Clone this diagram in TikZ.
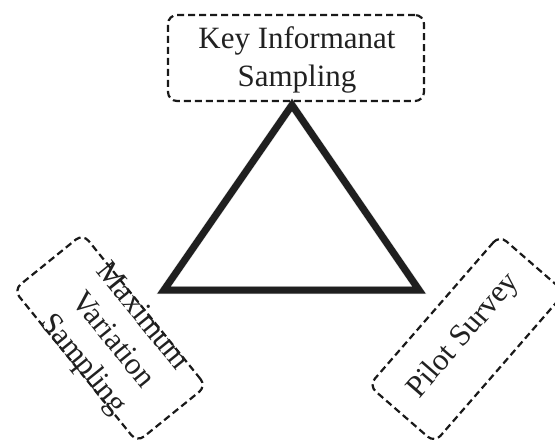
\documentclass[tikz,border=0pt]{standalone}
\usepackage{fontspec}
\setmainfont{Liberation Serif}
\begin{document}
\begin{tikzpicture}[x=1pt,y=-1pt,
  dashbox/.style={draw=black!90, line width=2.2pt, dash pattern=on 7pt off 4pt,
    rounded corners=9pt, inner sep=0pt},
  boxtext/.style={align=center, inner sep=0pt, text=black!87,
    font=\fontsize{31}{38}\selectfont},
  edge/.style={line width=7pt, draw=black!88, line join=miter},
  edgeshadow/.style={line width=8pt, draw=black, opacity=0.12, line join=miter}
]
\useasboundingbox (0,0) rectangle (555,447);

% corner boxes
\node[dashbox, minimum width=256pt, minimum height=86pt] (kis) at (296,58) {};
\node[boxtext] (kisText) at (297,60) {Key Informanat\\Sampling};

\node[dashbox, rotate=-51, minimum width=196pt, minimum height=89pt] (mvs) at (110,338) {};
\node[boxtext, rotate=-51] (mvsText) at (112,341) {Maximum\\Variation\\Sampling};

\node[dashbox, rotate=49, minimum width=199pt, minimum height=87pt] (ps) at (467,339) {};
\node[boxtext, rotate=49] (psText) at (464,336) {Pilot Survey};

% triangle corners
\coordinate (apex) at (292,105);
\coordinate (left) at (164,290);
\coordinate (right) at (419,290);

% soft shadow under the triangle
\begin{scope}[xshift=2pt, yshift=-2pt]
  \draw[edgeshadow] (apex) -- (left) -- (right) -- cycle;
\end{scope}
\draw[edge] (apex) -- (left) -- (right) -- cycle;
\end{tikzpicture}
\end{document}
